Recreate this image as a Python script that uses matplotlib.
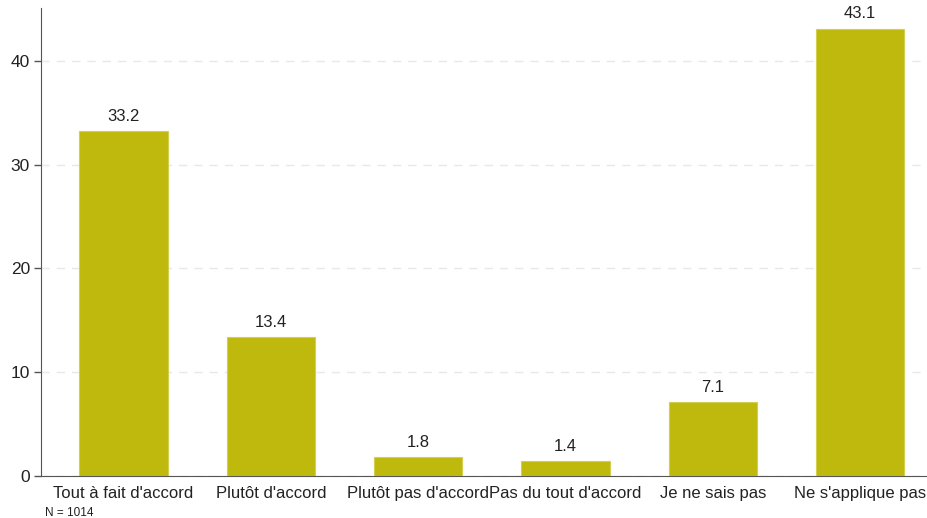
import matplotlib
matplotlib.use("Agg")
import matplotlib.pyplot as plt

categories = ["Tout à fait d'accord", "Plutôt d'accord", "Plutôt pas d'accord",
              "Pas du tout d'accord", "Je ne sais pas", "Ne s'applique pas"]
values = [33.2, 13.4, 1.8, 1.4, 7.1, 43.1]
yticks = [0, 10, 20, 30, 40]
note = "N = 1014"

plt.rcParams['font.family'] = ['Liberation Sans', 'DejaVu Sans']

fig = plt.figure(figsize=(9.28, 5.18), dpi=100)
ax = fig.add_axes([41/928, 1 - 476/518, 1 - 41/928, (476 - 8)/518])

x = list(range(len(categories)))
bars = ax.bar(x, values, width=0.6, color='#BFB90D', edgecolor='#D4CE50', linewidth=0.8, zorder=3)
for xi, v in zip(x, values):
    ax.text(xi, v + 0.7, f"{v:.1f}", ha='center', va='bottom', fontsize=12, color='#222222')

ax.set_xlim(-0.56, 5.46)
ax.set_ylim(0, 45.1)
ax.set_yticks(yticks)
ax.set_xticks(x)
ax.set_xticklabels(categories, fontsize=12, color='#222222')
ax.tick_params(axis='x', length=0, pad=7)
ax.tick_params(axis='y', length=5, width=1, color='#555555', labelsize=12.5, labelcolor='#222222', pad=3)
ax.yaxis.grid(True, linestyle=(0, (6, 5)), color='#E8E8E8', linewidth=1, zorder=0)
for s in ['top', 'right']:
    ax.spines[s].set_visible(False)
ax.spines['left'].set_color('#555555')
ax.spines['bottom'].set_color('#555555')

fig.text(45/928, 1 - 513/518, note, fontsize=8.5, color='#222222', va='center')

fig.savefig("out.png", dpi=100, facecolor='white')
